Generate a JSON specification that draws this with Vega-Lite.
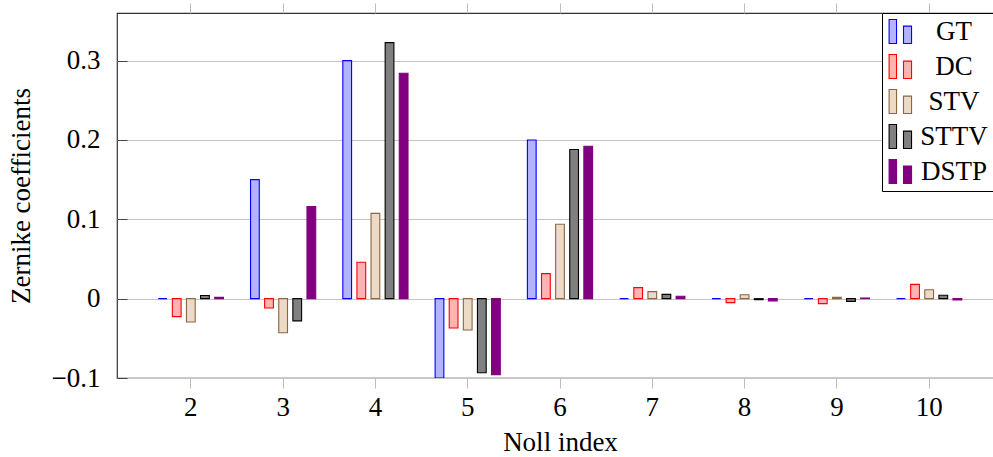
{
  "$schema": "https://vega.github.io/schema/vega-lite/v6.json",
  "autosize": {"type": "none"},
  "padding": {"left": 117, "top": 13, "right": -10, "bottom": 79},
  "width": 886,
  "height": 365,
  "config": {
    "font": "Liberation Serif, DejaVu Serif, serif",
    "view": {"stroke": "#333333", "strokeWidth": 1.2},
    "axis": {
      "labelFont": "Liberation Serif, DejaVu Serif, serif",
      "titleFont": "Liberation Serif, DejaVu Serif, serif",
      "labelFontSize": 27,
      "titleFontSize": 27,
      "titleFontWeight": "normal",
      "labelColor": "#000000",
      "titleColor": "#000000",
      "domain": false
    },
    "legend": {
      "labelFont": "Liberation Serif, DejaVu Serif, serif",
      "labelColor": "#000000"
    }
  },
  "data": {
    "values": [
      {"n": 2, "s": "GT", "v": 0.0},
      {"n": 2, "s": "DC", "v": -0.0227},
      {"n": 2, "s": "STV", "v": -0.0295},
      {"n": 2, "s": "STTV", "v": 0.004},
      {"n": 2, "s": "DSTP", "v": 0.0016},
      {"n": 3, "s": "GT", "v": 0.15},
      {"n": 3, "s": "DC", "v": -0.0118},
      {"n": 3, "s": "STV", "v": -0.043},
      {"n": 3, "s": "STTV", "v": -0.028},
      {"n": 3, "s": "DSTP", "v": 0.116},
      {"n": 4, "s": "GT", "v": 0.3},
      {"n": 4, "s": "DC", "v": 0.0458},
      {"n": 4, "s": "STV", "v": 0.1075},
      {"n": 4, "s": "STTV", "v": 0.3227},
      {"n": 4, "s": "DSTP", "v": 0.284},
      {"n": 5, "s": "GT", "v": -0.1},
      {"n": 5, "s": "DC", "v": -0.037},
      {"n": 5, "s": "STV", "v": -0.0396},
      {"n": 5, "s": "STTV", "v": -0.0933},
      {"n": 5, "s": "DSTP", "v": -0.0958},
      {"n": 6, "s": "GT", "v": 0.2},
      {"n": 6, "s": "DC", "v": 0.0315},
      {"n": 6, "s": "STV", "v": 0.0937},
      {"n": 6, "s": "STTV", "v": 0.188},
      {"n": 6, "s": "DSTP", "v": 0.192},
      {"n": 7, "s": "GT", "v": 0.0},
      {"n": 7, "s": "DC", "v": 0.0139},
      {"n": 7, "s": "STV", "v": 0.0088},
      {"n": 7, "s": "STTV", "v": 0.0054},
      {"n": 7, "s": "DSTP", "v": 0.003},
      {"n": 8, "s": "GT", "v": 0.0},
      {"n": 8, "s": "DC", "v": -0.005},
      {"n": 8, "s": "STV", "v": 0.005},
      {"n": 8, "s": "STTV", "v": -0.0013},
      {"n": 8, "s": "DSTP", "v": -0.003},
      {"n": 9, "s": "GT", "v": 0.0},
      {"n": 9, "s": "DC", "v": -0.0063},
      {"n": 9, "s": "STV", "v": 0.0016},
      {"n": 9, "s": "STTV", "v": -0.0034},
      {"n": 9, "s": "DSTP", "v": 0.0008},
      {"n": 10, "s": "GT", "v": 0.0},
      {"n": 10, "s": "DC", "v": 0.018},
      {"n": 10, "s": "STV", "v": 0.0113},
      {"n": 10, "s": "STTV", "v": 0.0042},
      {"n": 10, "s": "DSTP", "v": -0.0017}
    ]
  },
  "layer": [
    {
      "mark": {"type": "bar", "strokeWidth": 1.1, "clip": true, "opacity": 1},
      "encoding": {
        "x": {
          "field": "n", "type": "ordinal",
          "scale": {"paddingInner": 0, "paddingOuter": 0.3},
          "axis": {
            "orient": "bottom", "labelAngle": 0, "title": "Noll index",
            "tickSize": 10, "tickColor": "#bdbdbd", "labelPadding": 6, "titlePadding": 9
          }
        },
        "xOffset": {
          "field": "s", "type": "nominal",
          "sort": ["GT", "DC", "STV", "STTV", "DSTP"],
          "scale": {"paddingInner": 0.38, "paddingOuter": 0.96}
        },
        "y": {
          "field": "v", "type": "quantitative",
          "scale": {"domain": [-0.1, 0.36], "nice": false, "zero": false},
          "axis": {
            "title": "Zernike coefficients",
            "values": [-0.1, 0, 0.1, 0.2, 0.3],
            "format": ".1~f",
            "tickSize": -10, "tickColor": "#444444",
            "labelPadding": 27,
            "grid": true, "gridColor": "#c4c4c4",
            "titlePadding": 16
          }
        },
        "fill": {
          "field": "s", "type": "nominal",
          "scale": {
            "domain": ["GT", "DC", "STV", "STTV", "DSTP"],
            "range": ["#b3b3ff", "#ffb3b3", "#ecd9c6", "#808080", "#800080"]
          },
          "legend": {
            "title": null,
            "orient": "none", "legendX": 765, "legendY": 0,
            "strokeColor": "#000000", "fillColor": "#ffffff",
            "padding": 5,
            "symbolType": "M-0.95,-1H-0.33V1H-0.95Z M0.25,-0.45H0.92V1H0.25Z",
            "symbolSize": 576, "symbolStrokeWidth": 1.1, "symbolOpacity": 1,
            "labelFontSize": 27,
            "labelAlign": "center", "labelOffset": 40,
            "rowPadding": 6
          }
        },
        "stroke": {
          "field": "s", "type": "nominal",
          "scale": {
            "domain": ["GT", "DC", "STV", "STTV", "DSTP"],
            "range": ["#0000ff", "#ff0000", "#8b6640", "#000000", "#800080"]
          },
          "legend": null
        }
      }
    },
    {
      "mark": {"type": "rule", "opacity": 0},
      "encoding": {
        "x": {
          "field": "n", "type": "ordinal",
          "axis": {
            "orient": "top", "labels": false, "title": null,
            "tickSize": 10, "tickColor": "#bdbdbd"
          }
        }
      }
    }
  ],
  "resolve": {"axis": {"x": "independent"}}
}
